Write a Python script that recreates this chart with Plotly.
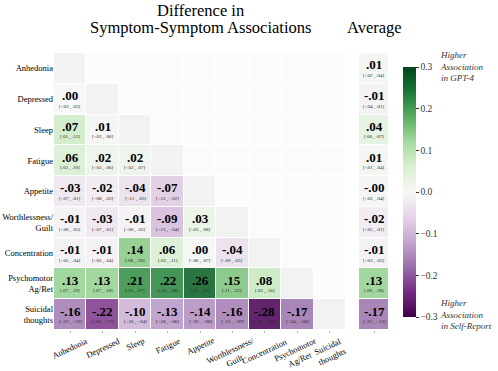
import numpy as np
import plotly.graph_objects as go
import plotly.express as px

W, H = 498, 371
FONT = "Liberation Serif, Times New Roman, serif"

SYMPTOMS = ["Anhedonia", "Depressed", "Sleep", "Fatigue", "Appetite",
            "Worthlessness/<br>Guilt", "Concentration", "Psychomotor<br>Ag/Ret",
            "Suicidal<br>thoughts"]

# lower triangle of the difference matrix, row by row (GPT-4 minus self-report)
DIFF_ROWS = [
    [],
    [0.00],
    [0.07, 0.01],
    [0.06, 0.02, 0.02],
    [-0.03, -0.02, -0.04, -0.07],
    [-0.01, -0.03, -0.01, -0.09, 0.03],
    [-0.01, -0.01, 0.14, 0.06, 0.004, -0.04],
    [0.13, 0.13, 0.21, 0.22, 0.26, 0.15, 0.08],
    [-0.16, -0.22, -0.10, -0.13, -0.14, -0.16, -0.28, -0.17],
]
CI_LOW_ROWS = [
    [],
    [-0.03],
    [0.01, -0.03],
    [0.02, -0.03, -0.02],
    [-0.07, -0.08, -0.11, -0.13],
    [-0.06, -0.07, -0.06, -0.13, -0.03],
    [-0.05, -0.05, 0.08, 0.02, -0.06, -0.09],
    [0.07, 0.07, 0.15, 0.18, 0.21, 0.11, 0.02],
    [-0.22, -0.26, -0.16, -0.18, -0.20, -0.21, -0.32, -0.24],
]
CI_HIGH_ROWS = [
    [],
    [0.03],
    [0.12, 0.06],
    [0.10, 0.06, 0.07],
    [0.01, 0.03, 0.03, -0.02],
    [0.05, 0.01, 0.03, -0.04, 0.08],
    [0.04, 0.04, 0.20, 0.11, 0.07, 0.03],
    [0.19, 0.18, 0.27, 0.28, 0.32, 0.22, 0.16],
    [-0.10, -0.17, -0.04, -0.06, -0.08, -0.09, -0.23, -0.08],
]

AVG = [0.01, -0.01, 0.04, 0.01, -0.004, -0.02, -0.01, 0.13, -0.17]
AVG_LOW = [-0.02, -0.04, 0.00, -0.01, -0.03, -0.05, -0.03, 0.09, -0.21]
AVG_HIGH = [0.04, 0.01, 0.07, 0.04, 0.04, 0.01, 0.03, 0.18, -0.13]

CBAR_TICKS = [-0.3, -0.2, -0.1, 0.0, 0.1, 0.2, 0.3]


def px_x(x):
    return x / W


def px_y(y):
    return 1 - y / H


def fmt(v):
    return f"{v:.2f}".replace("0.", ".", 1)


def fmt_ci(lo, hi):
    return f"[{fmt(lo)} , {fmt(hi)}]"


n = len(SYMPTOMS)
z = np.full((n, n), np.nan)
mask = np.full((n, n), np.nan)
for i in range(n):
    for j in range(n):
        if j < i:
            z[i, j] = DIFF_ROWS[i][j]
        else:
            mask[i, j] = 1.0 if i == j else 0.0

cscale = px.colors.diverging.PRGn

fig = go.Figure()
fig.add_trace(go.Heatmap(
    z=mask, x=list(range(n)), y=list(range(n)),
    colorscale=[[0, "#fbfbfb"], [1, "#f2f2f2"]], zmin=0, zmax=1,
    showscale=False, xgap=1, ygap=1, hoverinfo="skip",
))
fig.add_trace(go.Heatmap(
    z=z, x=list(range(n)), y=list(range(n)), opacity=0.9,
    colorscale=cscale, zmin=-0.3, zmax=0.3, xgap=1, ygap=1,
    colorbar=dict(
        x=px_x(403), xanchor="left", y=px_y(67), yanchor="top",
        len=250 / H, lenmode="fraction", thickness=13, xpad=0, ypad=0,
        outlinewidth=0, ticks="outside", ticklen=3, tickcolor="#333",
        tickvals=CBAR_TICKS,
        ticktext=[f"{t:.1f}".replace("-", "\u2212") for t in CBAR_TICKS],
        tickfont=dict(family=FONT, size=9.5, color="#333"),
    ),
))
fig.add_trace(go.Heatmap(
    z=[[v] for v in AVG], x=[0], y=list(range(n)), opacity=0.9,
    colorscale=cscale, zmin=-0.3, zmax=0.3, xgap=1, ygap=1,
    showscale=False, xaxis="x2", yaxis="y2",
))

annotations = []
for i in range(n):
    for j in range(i):
        annotations.append(dict(
            x=j, y=i, xref="x", yref="y", text=f"<b>{fmt(DIFF_ROWS[i][j])}</b>",
            showarrow=False, yshift=3.5, font=dict(family=FONT, size=13, color="black")))
        annotations.append(dict(
            x=j, y=i, xref="x", yref="y", text=fmt_ci(CI_LOW_ROWS[i][j], CI_HIGH_ROWS[i][j]),
            showarrow=False, yshift=-7.5, font=dict(family=FONT, size=5, color="#222")))
for i in range(n):
    annotations.append(dict(
        x=0, y=i, xref="x2", yref="y2", text=f"<b>{fmt(AVG[i])}</b>",
        showarrow=False, yshift=3.5, font=dict(family=FONT, size=13, color="black")))
    annotations.append(dict(
        x=0, y=i, xref="x2", yref="y2", text=fmt_ci(AVG_LOW[i], AVG_HIGH[i]),
        showarrow=False, yshift=-7.5, font=dict(family=FONT, size=5, color="#222")))

# rotated column labels
for j, name in enumerate(SYMPTOMS):
    annotations.append(dict(
        x=j, y=px_y(333), xref="x", yref="paper", text=name, textangle=-25,
        xanchor="center", yanchor="top", align="center", showarrow=False,
        font=dict(family=FONT, size=8.5, color="black")))

annotations += [
    dict(x=px_x(200), y=px_y(10), xref="paper", yref="paper", text="Difference in",
         showarrow=False, xanchor="center", yanchor="middle",
         font=dict(family=FONT, size=16.5, color="black")),
    dict(x=px_x(200), y=px_y(27), xref="paper", yref="paper",
         text="Symptom-Symptom Associations", showarrow=False,
         xanchor="center", yanchor="middle", font=dict(family=FONT, size=16.5, color="black")),
    dict(x=px_x(374), y=px_y(27), xref="paper", yref="paper", text="Average",
         showarrow=False, xanchor="center", yanchor="middle",
         font=dict(family=FONT, size=16.5, color="black")),
    dict(x=px_x(438), y=px_y(48), xref="paper", yref="paper",
         text="<i>Higher<br>Association<br>in GPT-4</i>", showarrow=False,
         xanchor="left", yanchor="top", align="left",
         font=dict(family=FONT, size=9, color="#333")),
    dict(x=px_x(438), y=px_y(296), xref="paper", yref="paper",
         text="<i>Higher<br>Association<br>in Self-Report</i>", showarrow=False,
         xanchor="left", yanchor="top", align="left",
         font=dict(family=FONT, size=9, color="#333")),
]

y_dom = [px_y(330), px_y(53)]
fig.update_layout(
    width=W, height=H,
    margin=dict(l=0, r=0, t=0, b=0),
    paper_bgcolor="white", plot_bgcolor="white",
    font=dict(family=FONT, color="black"),
    xaxis=dict(domain=[px_x(54), px_x(346)], range=[-0.5, n - 0.5], showgrid=False,
               zeroline=False, tickvals=list(range(n)), showticklabels=False,
               ticks="outside", ticklen=2, tickcolor="#bbb", automargin=False),
    yaxis=dict(domain=y_dom, range=[n - 0.5, -0.5], showgrid=False, zeroline=False,
               tickvals=list(range(n)), ticktext=SYMPTOMS, ticks="",
               tickfont=dict(family=FONT, size=8.5, color="black"), automargin=False),
    xaxis2=dict(domain=[px_x(359), px_x(389)], range=[-0.5, 0.5], showgrid=False,
                zeroline=False, tickvals=[0], showticklabels=False,
                ticks="outside", ticklen=2, tickcolor="#bbb", automargin=False),
    yaxis2=dict(domain=y_dom, range=[n - 0.5, -0.5], anchor="x2", showgrid=False,
                zeroline=False, showticklabels=False, automargin=False),
    annotations=annotations,
)

# drop the default 8px page margin so the figure fills the window
fig.write_html("out.html", config={"displayModeBar": False},
               post_script="document.body.style.margin = '0';")
